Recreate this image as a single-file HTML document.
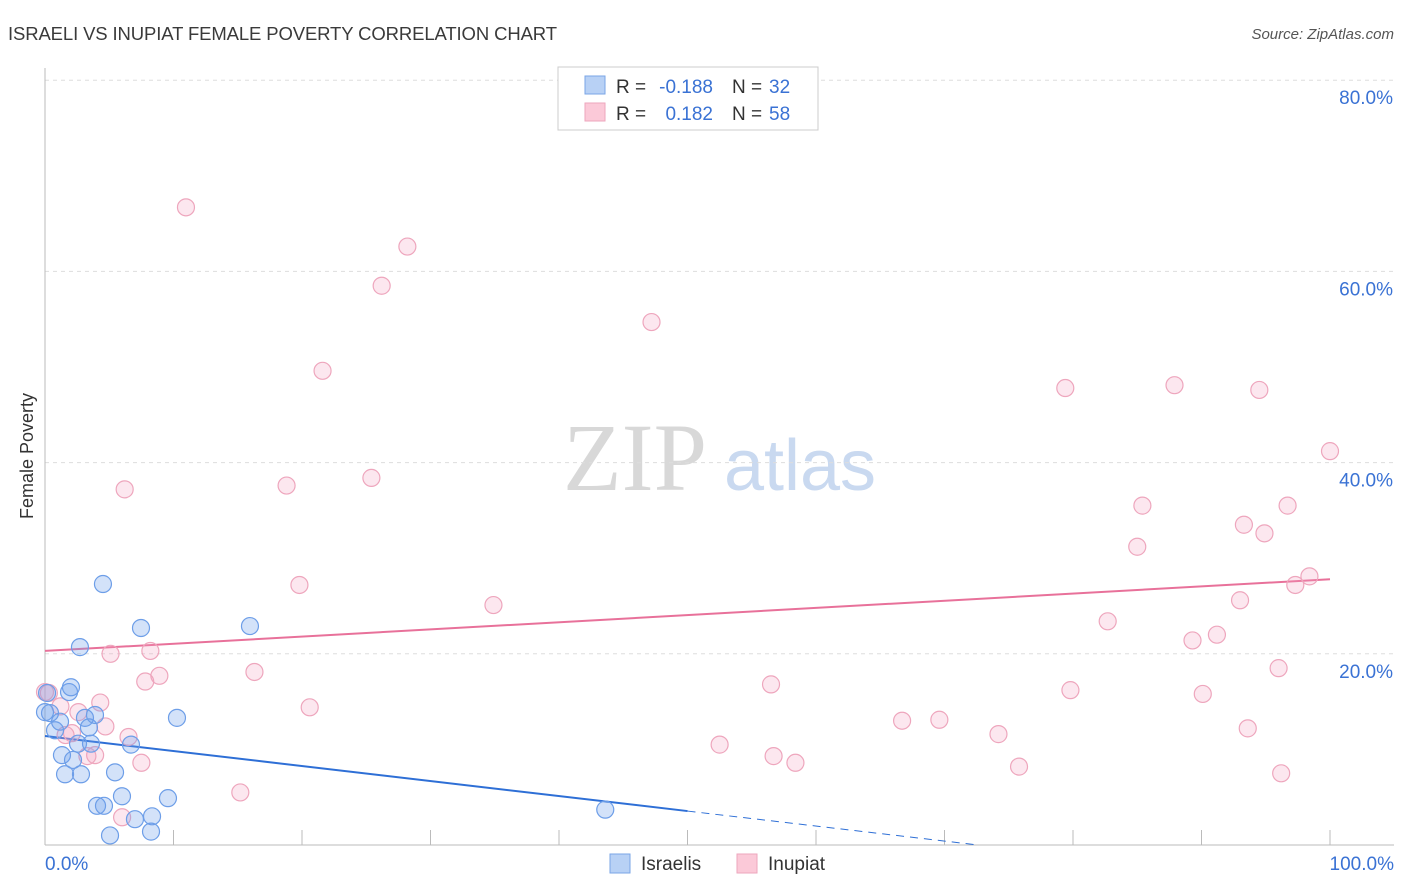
<!DOCTYPE html>
<html><head><meta charset="utf-8"><style>
body{margin:0;background:#fff;font-family:"Liberation Sans",sans-serif;}
svg{display:block}
</style></head><body>
<svg id="chart" width="1406" height="892" xmlns="http://www.w3.org/2000/svg" font-family="Liberation Sans, sans-serif">
<text x="8" y="40" font-size="18.5" fill="#3a3a3a" textLength="549">ISRAELI VS INUPIAT FEMALE POVERTY CORRELATION CHART</text>
<text x="1394" y="39" font-size="15" fill="#555" font-style="italic" text-anchor="end">Source: ZipAtlas.com</text>
<g>
<text x="635" y="490" font-size="96" fill="#d8d8d8" font-family="Liberation Serif, serif" text-anchor="middle">ZIP</text>
<text x="800" y="490" font-size="72" fill="#c9d9f0" text-anchor="middle">atlas</text>
</g>
<text transform="translate(33,456) rotate(-90)" font-size="18" fill="#333" text-anchor="middle">Female Poverty</text>
<g id="grid"></g><g id="axes"></g><g id="lines"></g><g id="points"></g>
<g>
<rect x="558" y="67" width="260" height="63" fill="#fff" stroke="#ccc"/>
<rect x="585" y="76" width="20" height="18" fill="#b8d1f5" stroke="#7aa5e6"/>
<rect x="585" y="103" width="20" height="18" fill="#fbc9d8" stroke="#eea6bd"/>
<text x="616" y="93" font-size="19" fill="#333">R =</text>
<text x="713" y="93" font-size="19" fill="#3a72d4" text-anchor="end">-0.188</text>
<text x="732" y="93" font-size="19" fill="#333">N =</text>
<text x="769" y="93" font-size="19" fill="#3a72d4">32</text>
<text x="616" y="120" font-size="19" fill="#333">R =</text>
<text x="713" y="120" font-size="19" fill="#3a72d4" text-anchor="end">0.182</text>
<text x="732" y="120" font-size="19" fill="#333">N =</text>
<text x="769" y="120" font-size="19" fill="#3a72d4">58</text>
</g>
<g>
<rect x="610" y="854" width="20" height="19" fill="#b8d1f5" stroke="#7aa5e6"/>
<text x="641" y="870" font-size="19" fill="#333">Israelis</text>
<rect x="737" y="854" width="20" height="19" fill="#fbc9d8" stroke="#eea6bd"/>
<text x="768" y="870" font-size="19" fill="#333">Inupiat</text>
</g>
</svg>
<script>
const yTicks=[20,40,60,80];
const yTickLabels=["20.0%","40.0%","60.0%","80.0%"];
const xTickLabels=["0.0%","100.0%"];
const israeliX=[0.16,0.39,0.78,1.17,1.87,2.02,2.72,3.11,3.42,3.89,3.58,2.57,1.32,2.18,1.56,2.80,5.45,4.51,7.47,15.95,10.27,6.69,5.99,4.05,4.59,9.57,8.33,7.0,8.25,5.06,43.6,0];
const israeliY=[15.9,13.8,12.0,12.9,16.0,16.5,20.7,13.3,12.3,13.6,10.6,10.6,9.4,8.9,7.4,7.4,7.6,27.3,22.7,22.9,13.3,10.5,5.1,4.1,4.1,4.9,3.0,2.7,1.4,1.0,3.7,13.9];
const inupiatX=[10.97,28.2,26.2,47.2,21.6,79.4,87.9,94.5,100,6.2,18.8,25.4,85.4,96.7,93.3,94.9,85.0,19.8,34.9,98.4,97.3,93.0,82.7,91.2,89.3,5.1,8.2,96.0,16.3,8.9,7.8,56.5,79.8,90.1,4.3,20.6,0.3,1.2,2.6,4.7,2.1,6.5,3.9,3.3,66.7,69.6,74.2,93.6,52.5,56.7,58.4,7.5,75.8,96.2,15.2,6.0,1.6,0];
const inupiatY=[66.7,62.6,58.5,54.7,49.6,47.8,48.1,47.6,41.2,37.2,37.6,38.4,35.5,35.5,33.5,32.6,31.2,27.2,25.1,28.1,27.2,25.6,23.4,22.0,21.4,20.0,20.3,18.5,18.1,17.7,17.1,16.8,16.2,15.8,14.9,14.4,15.9,14.5,13.9,12.4,11.7,11.3,9.4,9.3,13.0,13.1,11.6,12.2,10.5,9.3,8.6,8.6,8.2,7.5,5.5,2.9,11.5,16.0];
const israeliFit=[11.4,-0.157];
const inupiatFit=[20.3,0.075];
const NS="http://www.w3.org/2000/svg";
const X=v=>45+v*12.85, Y=v=>845-v*9.56;
function mk(p,t,a){const e=document.createElementNS(NS,t);for(const k in a)e.setAttribute(k,a[k]);p.appendChild(e);return e;}
const grid=document.getElementById('grid'),axes=document.getElementById('axes'),lines=document.getElementById('lines'),pts=document.getElementById('points');
yTicks.forEach((t,i)=>{
 const g=mk(grid,'line',{x1:45,x2:1394,y1:Y(t),y2:Y(t),stroke:'#ddd','stroke-dasharray':'4,4'});
 
 
 const l=mk(axes,'text',{x:1393,y:Y(t)+24,'font-size':19,fill:'#3a72d4','text-anchor':'end'});l.textContent=yTickLabels[i];
 
 
});
const ax=mk(axes,'line',{x1:45,x2:1394,y1:845,y2:845,stroke:'#bbb'});


const ay=mk(axes,'line',{x1:45,x2:45,y1:68,y2:845,stroke:'#bbb'});


for(let i=0;i<=10;i++){const t=mk(axes,'line',{x1:X(i*10),x2:X(i*10),y1:830,y2:845,stroke:'#bbb'});
 
 }
[[0,'start',45],[1,'end',1394]].forEach(([i,a,x])=>{const l=mk(axes,'text',{x:x,y:870,'font-size':19,fill:'#3a72d4','text-anchor':a});l.textContent=xTickLabels[i];
 
 });
function pt(xs,ys,fill,stroke,name){xs.forEach((x,i)=>{const c=mk(pts,'circle',{cx:X(x),cy:Y(ys[i]),r:8.5,fill:fill,stroke:stroke,'stroke-width':1.2});
 
 });}
pt(inupiatX,inupiatY,'rgba(245,160,190,0.25)','#eea6bd','inupiat-point');
pt(israeliX,israeliY,'rgba(110,160,235,0.3)','#6d9ee8','israeli-point');
const bEnd=-israeliFit[0]/israeliFit[1];
const b1=mk(lines,'line',{x1:X(0),y1:Y(israeliFit[0]),x2:X(50),y2:Y(israeliFit[0]+israeliFit[1]*50),stroke:'#2e6fd6','stroke-width':2});


const b2=mk(lines,'line',{x1:X(50),y1:Y(israeliFit[0]+israeliFit[1]*50),x2:X(bEnd),y2:Y(0),stroke:'#2e6fd6','stroke-width':1,'stroke-dasharray':'8,6'});


const p1=mk(lines,'line',{x1:X(0),y1:Y(inupiatFit[0]),x2:X(100),y2:Y(inupiatFit[0]+inupiatFit[1]*100),stroke:'#e8719a','stroke-width':2});


</script>
</body></html>
